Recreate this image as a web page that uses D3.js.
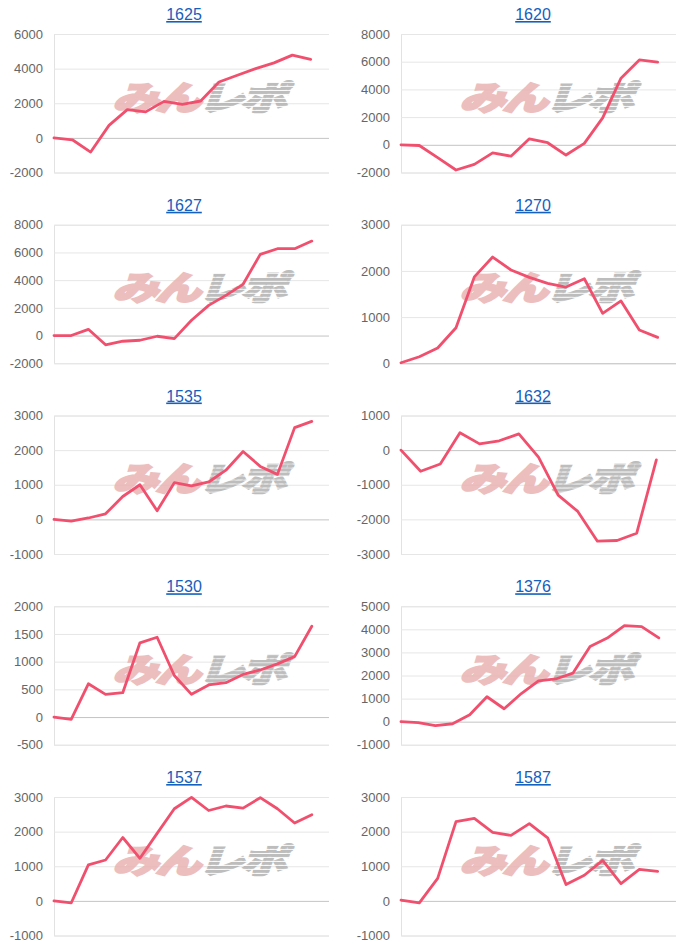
<!DOCTYPE html>
<html><head><meta charset="utf-8">
<script src="https://cdn.jsdelivr.net/npm/d3@7"></script>
<style>body{margin:0;background:#fff}svg{display:block}</style>
</head><body>
<svg id="c" width="700" height="952"></svg>
<script>
const titles = ["1625","1620","1627","1270","1535","1632","1530","1376","1537","1587"];

const s1625 = [0,-110,-820,720,1630,1500,2110,1940,2130,3230,3620,4000,4330,4780,4530];
const s1620 = [0,-50,-930,-1820,-1410,-580,-820,430,150,-740,100,1940,4810,6130,5970];
const s1627 = [0,0,450,-670,-410,-340,-50,-220,1100,2180,2900,3700,5860,6270,6270,6820];
const s1270 = [10,140,330,770,1870,2300,2020,1860,1730,1650,1830,1080,1350,720,560];
const s1535 = [0,-50,40,160,660,1000,250,1060,970,1080,1420,1960,1530,1300,2650,2830];
const s1632 = [0,-610,-400,500,180,270,470,-200,-1300,-1770,-2630,-2610,-2400,-280];
const s1530 = [0,-40,600,410,440,1340,1440,750,410,580,620,770,850,960,1090,1640];
const s1376 = [0,-40,-170,-90,300,1080,560,1220,1770,1850,2100,3260,3620,4160,4120,3630];
const s1537 = [0,-60,1040,1180,1830,1230,1950,2660,2990,2610,2740,2680,2980,2660,2250,2490];
const s1587 = [20,-60,650,2290,2380,1980,1890,2230,1820,470,740,1170,500,910,850];

const t1625 = [-2000,0,2000,4000,6000];
const t1620 = [-2000,0,2000,4000,6000,8000];
const t1627 = [-2000,0,2000,4000,6000,8000];
const t1270 = [0,1000,2000,3000];
const t1535 = [-1000,0,1000,2000,3000];
const t1632 = [-3000,-2000,-1000,0,1000];
const t1530 = [-500,0,500,1000,1500,2000];
const t1376 = [-1000,0,1000,2000,3000,4000,5000];
const t1537 = [-1000,0,1000,2000,3000];
const t1587 = [-1000,0,1000,2000,3000];

const seriesList = [s1625,s1620,s1627,s1270,s1535,s1632,s1530,s1376,s1537,s1587];
const tickList = [t1625,t1620,t1627,t1270,t1535,t1632,t1530,t1376,t1537,t1587];

const svg = d3.select("#c");
const defs = svg.append("defs");
const pat = defs.append("pattern").attr("id","stripes").attr("patternUnits","userSpaceOnUse")
  .attr("width",8).attr("height",4);
pat.append("rect").attr("width",8).attr("height",3).attr("fill","#b2b2b2");

const colLeft = [54, 401];
const titleX = [184, 533];
const plotW = 275, plotH = 138.5;

seriesList.forEach((vals, i) => {
  const col = i % 2, row = Math.floor(i / 2);
  const left = colLeft[col];
  const top = 34 + row * 190.75;
  const ticks = tickList[i];
  const g = svg.append("g");

  const x = d3.scaleLinear().domain([0, vals.length]).range([left, left + plotW]);
  const y = d3.scaleLinear().domain(d3.extent(ticks)).range([top + plotH, top]);

  // title
  g.append("text").attr("x", titleX[col]).attr("y", top - 14)
    .attr("text-anchor","middle")
    .attr("font-family","'Liberation Sans', Arial, sans-serif")
    .attr("font-size", 16).attr("fill","#1560bd")
    .attr("text-decoration","underline")
    .text(titles[i]);

  // y axis with grid
  const axis = d3.axisLeft(y).tickValues(ticks).tickSize(-plotW).tickPadding(11).tickFormat(d => String(d));
  const ag = g.append("g").attr("transform", `translate(${left},0)`).call(axis);
  ag.select(".domain").attr("stroke","#e2e2e2");
  ag.selectAll(".tick line").attr("stroke", d => d === 0 ? "#c4c4c4" : "#e6e6e6").attr("stroke-width",1);
  ag.selectAll(".tick text").attr("fill","#666")
    .attr("font-family","'Liberation Sans', Arial, sans-serif").attr("font-size", 13);

  // watermark
  const wm = g.append("g").attr("transform", `translate(${left + 149},${top + 61}) scale(1.38,1) skewX(-14)`)
    .attr("opacity", 0.85);
  const wt = wm.append("text").attr("text-anchor","middle").attr("dominant-baseline","central")
    .attr("font-family","'Noto Sans CJK JP', sans-serif").attr("font-weight", 900)
    .attr("font-size", 33).attr("letter-spacing", -2);
  wt.append("tspan").attr("fill","#eab3b3").attr("stroke","#eab3b3").attr("stroke-width",2.2).text("みん");
  wt.append("tspan").attr("fill","url(#stripes)").attr("stroke","url(#stripes)").attr("stroke-width",2.2).text("レポ");

  // line
  const line = d3.line().x((d, j) => x(j)).y(d => y(d));
  g.append("path").datum(vals).attr("d", line).attr("fill","none")
    .attr("stroke","#f0506e").attr("stroke-width", 2.8)
    .attr("stroke-linejoin","round").attr("stroke-linecap","round");
});
</script>
</body></html>
